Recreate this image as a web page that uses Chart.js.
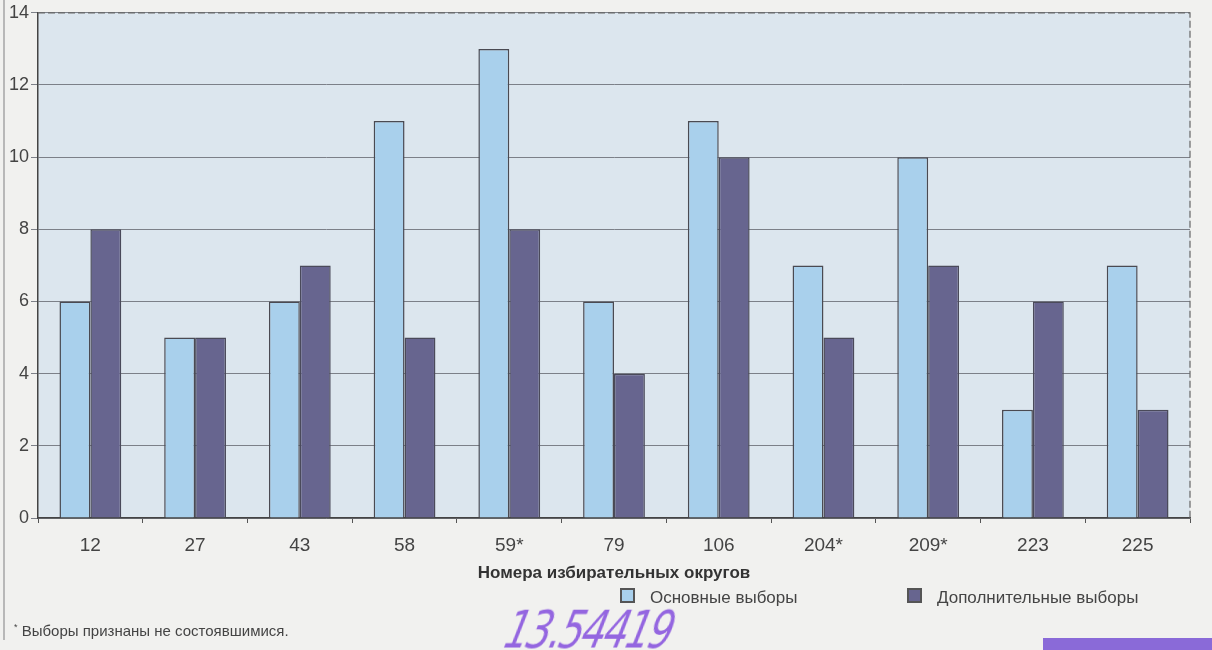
<!DOCTYPE html>
<html>
<head>
<meta charset="utf-8">
<script src="https://cdn.jsdelivr.net/npm/chart.js@4.4.1/dist/chart.umd.min.js"></script>
<style>
  html, body { margin: 0; padding: 0; background: #f1f1ef; }
  #wrap { position: relative; width: 1212px; height: 650px; overflow: hidden; font-family: "Liberation Sans", Arial, sans-serif; }
  #chart { position: absolute; left: 0; top: 0; }
  .leg { position: absolute; top: 588px; font-size: 17px; color: #444; white-space: nowrap; }
  .leg span { display: inline-block; width: 11px; height: 11px; border: 2px solid #555; margin-right: 15px; vertical-align: 0px; }
  #note { position: absolute; left: 14px; top: 622px; font-size: 15px; color: #444; }
  #hand { position: absolute; left: 514px; top: 600px; font-family: "DejaVu Sans", sans-serif; font-style: italic; font-size: 52px; color: #9466e0; transform-origin: left top; transform: skewX(-14deg) scaleX(0.74); letter-spacing: -3px; }
  #stripe { position: absolute; left: 1043px; top: 638px; width: 170px; height: 12px; background: #8a6ad8; }
  #edge { position: absolute; left: 3px; top: 0; width: 2px; height: 640px; background: #b8b8b8; }
</style>
</head>
<body>
<div id="wrap">
  <div id="edge"></div>
  <canvas id="chart" width="1212" height="650"></canvas>
  <div class="leg" style="left:620px"><span style="background:#a9d0ec"></span>Основные выборы</div>
  <div class="leg" style="left:907px"><span style="background:#67658f"></span>Дополнительные выборы</div>
  <div id="note"><sup style="font-size:9px">*</sup> Выборы признаны не состоявшимися.</div>
  <div id="hand">13.54419</div>
  <div id="stripe"></div>
</div>
<script>
// Chart data
const districts = ['12', '27', '43', '58', '59*', '79', '106', '204*', '209*', '223', '225'];
const mainElections = [6, 5, 6, 11, 13, 6, 11, 7, 10, 3, 7];
const extraElections = [8, 5, 7, 5, 8, 4, 10, 5, 7, 6, 3];
const yTicks = [0, 2, 4, 6, 8, 10, 12, 14];

// Plot background and dashed frame
const plotFrame = {
  id: 'plotFrame',
  beforeDraw(chart) {
    const { ctx, chartArea: a } = chart;
    ctx.save();
    ctx.fillStyle = '#dce6ee';
    ctx.fillRect(a.left, a.top, a.right - a.left, a.bottom - a.top);
    ctx.restore();
  },
  afterDraw(chart) {
    const { ctx, chartArea: a } = chart;
    ctx.save();
    ctx.strokeStyle = '#666';
    ctx.lineWidth = 1.2;
    ctx.setLineDash([7, 3]);
    ctx.beginPath();
    ctx.moveTo(a.left, a.top);
    ctx.lineTo(a.right, a.top);
    ctx.lineTo(a.right, a.bottom);
    ctx.stroke();
    ctx.restore();
  },
};

new Chart(document.getElementById('chart'), {
  type: 'bar',
  data: {
    labels: districts,
    datasets: [
      {
        label: 'Основные выборы',
        data: mainElections,
        backgroundColor: '#a9d0ec',
        borderColor: '#4a4a52',
        borderWidth: 1.5,
        borderSkipped: 'bottom',
      },
      {
        label: 'Дополнительные выборы',
        data: extraElections,
        backgroundColor: '#67658f',
        borderColor: '#4a4a5a',
        borderWidth: 1.5,
        borderSkipped: 'bottom',
      },
    ],
  },
  options: {
    responsive: false,
    animation: false,
    layout: { padding: { left: 0, top: 12, right: 22, bottom: 66 } },
    datasets: { bar: { categoryPercentage: 0.59, barPercentage: 1 } },
    plugins: { legend: { display: false }, tooltip: { enabled: false } },
    scales: {
      x: {
        grid: { display: true, drawOnChartArea: false, offset: true, color: '#555', tickLength: 5 },
        border: { color: '#444', width: 1.5 },
        ticks: { color: '#444', font: { family: 'Liberation Sans', size: 19 }, padding: 11 },
        title: {
          display: true,
          text: 'Номера избирательных округов',
          color: '#333',
          font: { family: 'Liberation Sans', size: 17, weight: 'bold' },
          padding: { top: 2, bottom: 0 },
        },
        afterFit(scale) { scale.height = 66; },
      },
      y: {
        min: 0,
        max: 14,
        afterBuildTicks(scale) { scale.ticks = yTicks.map((v) => ({ value: v })); },
        grid: { color: '#7c8088', lineWidth: 1, tickLength: 7 },
        border: { color: '#444', width: 1.5 },
        ticks: { color: '#444', font: { family: 'Liberation Sans', size: 18 }, padding: 2 },
        afterFit(scale) { scale.width = 38; },
      },
    },
  },
  plugins: [plotFrame],
});
</script>
</body>
</html>
